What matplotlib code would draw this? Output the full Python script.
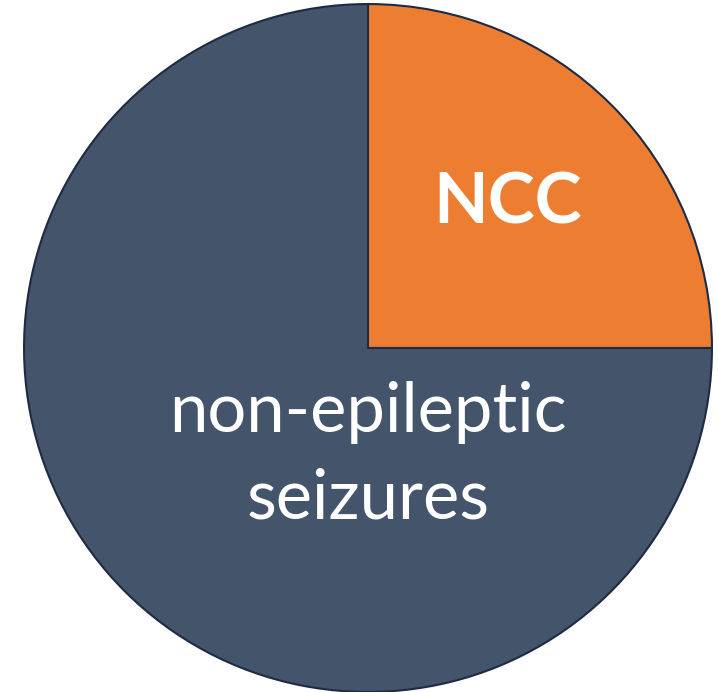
import matplotlib.pyplot as plt

# slice data
labels = ['NCC', 'non-epileptic\nseizures']
shares = [25, 75]
colors = ['#ED7D31', '#44546A']

W, H = 719, 692
fig = plt.figure(figsize=(W / 100, H / 100), dpi=100)
cx, cy, r = 368, 344, 345
ax = fig.add_axes([(cx - r) / W, (cy - r) / H, 2 * r / W, 2 * r / H])

ax.pie(shares, colors=colors, startangle=90, counterclock=False, radius=1,
       wedgeprops=dict(edgecolor='#1F2A44', linewidth=1.5))
ax.set_xlim(-1.003, 1.003)
ax.set_ylim(-1.003, 1.003)
ax.set_aspect('equal')
ax.axis('off')

font = ['Lato', 'DejaVu Sans']
ax.text(0.405, 0.3615, labels[0], ha='center', va='baseline', color='white',
        fontsize=51, fontweight='bold', family=font)
# two lines placed separately to control spacing
for line, yb in zip(labels[1].split('\n'), [-0.245, -0.496]):
    ax.text(0.0, yb, line, ha='center', va='baseline', color='white',
            fontsize=49.5, family=font)

fig.savefig('out.png', dpi=100)
